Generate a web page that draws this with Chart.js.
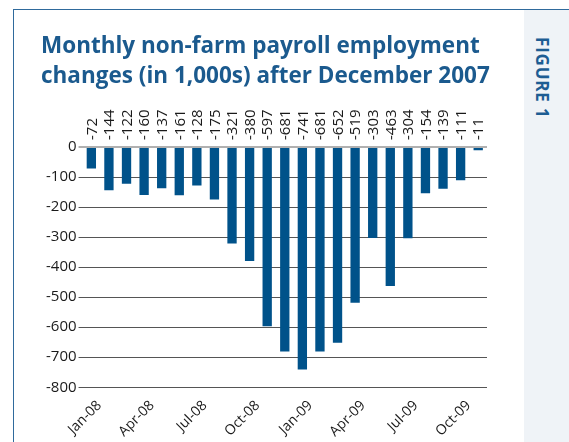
<!DOCTYPE html>
<html>
<head>
<meta charset="utf-8">
<script src="https://cdn.jsdelivr.net/npm/chart.js@4.4.1/dist/chart.umd.min.js"></script>
<style>
  html, body { margin: 0; padding: 0; background: #fff; }
  body { width: 569px; height: 442px; position: relative; overflow: hidden; font-family: "Open Sans", sans-serif; }
  .frame { position: absolute; left: 13px; top: 9px; right: -2px; bottom: -2px; border-top: 1px solid #2f6a9c; border-left: 1px solid #2f6a9c; }
  .side { position: absolute; left: 524px; top: 10px; width: 45px; bottom: 0; background: #eff3f7; }
  .side span { position: absolute; left: 27px; top: 27px; transform: rotate(90deg); transform-origin: 0 0; color: #1d5d93; font-weight: 700; font-size: 17px; letter-spacing: 0.8px; white-space: nowrap; line-height: 1; }
  .title { position: absolute; left: 41px; top: 30px; color: #1b5a8e; font-weight: 700; font-size: 22.5px; line-height: 30px; white-space: nowrap; }
  .wrap { position: absolute; left: 14px; top: 10px; width: 508px; height: 432px; }
</style>
</head>
<body>
<div class="frame"></div>
<div class="side"><span>FIGURE 1</span></div>
<div class="wrap"><canvas id="chart"></canvas></div>
<div class="title" id="title"></div>
<script>
const months = ['Jan-08', 'Feb-08', 'Mar-08', 'Apr-08', 'May-08', 'Jun-08', 'Jul-08', 'Aug-08',
  'Sep-08', 'Oct-08', 'Nov-08', 'Dec-08', 'Jan-09', 'Feb-09', 'Mar-09', 'Apr-09', 'May-09',
  'Jun-09', 'Jul-09', 'Aug-09', 'Sep-09', 'Oct-09', 'Nov-09'];
const payrollChange = [-72, -144, -122, -160, -137, -161, -128, -175, -321, -380, -597, -681,
  -741, -681, -652, -519, -303, -463, -304, -154, -139, -111, -11];
const titleLines = ['Monthly non-farm payroll employment', 'changes (in 1,000s) after December 2007'];

document.getElementById('title').innerHTML = titleLines.join('<br>');

// rotated value labels above the zero line
const valueLabels = {
  id: 'valueLabels',
  afterDatasetsDraw(chart) {
    const ctx = chart.ctx;
    const meta = chart.getDatasetMeta(0);
    const top = chart.chartArea.top;
    ctx.save();
    ctx.font = '15px "Open Sans", sans-serif';
    ctx.fillStyle = '#1a1a1a';
    ctx.textAlign = 'left';
    ctx.textBaseline = 'middle';
    meta.data.forEach((bar, i) => {
      ctx.save();
      ctx.translate(bar.x + 1, top - 7);
      ctx.rotate(-Math.PI / 2);
      ctx.fillText(String(payrollChange[i]), 0, 0);
      ctx.restore();
    });
    ctx.restore();
  }
};

new Chart(document.getElementById('chart').getContext('2d'), {
  type: 'bar',
  data: {
    labels: months,
    datasets: [{
      data: payrollChange,
      backgroundColor: '#00528a',
      barPercentage: 0.53,
      categoryPercentage: 1
    }]
  },
  options: {
    responsive: true,
    maintainAspectRatio: false,
    animation: false,
    layout: { padding: { left: 30, right: 35, top: 137, bottom: 0 } },
    scales: {
      x: {
        grid: { display: false },
        border: { display: false },
        ticks: {
          autoSkip: false,
          minRotation: 45,
          maxRotation: 45,
          padding: 2,
          labelOffset: 8,
          color: '#1a1a1a',
          font: { family: 'Open Sans', size: 14 },
          callback: (v, i) => (i % 3 === 0 ? months[i] : '')
        }
      },
      y: {
        min: -800,
        max: 0,
        ticks: {
          stepSize: 100,
          color: '#1a1a1a',
          font: { family: 'Open Sans', size: 15 },
          padding: 2
        },
        grid: {
          color: (c) => (c.tick.value === 0 ? '#b0b0b0' : '#555'),
          lineWidth: (c) => (c.tick.value === 0 ? 2 : 1),
          tickLength: 4
        },
        border: { display: false }
      }
    },
    plugins: {
      legend: { display: false },
      tooltip: { enabled: false }
    }
  },
  plugins: [valueLabels]
});
</script>
</body>
</html>
